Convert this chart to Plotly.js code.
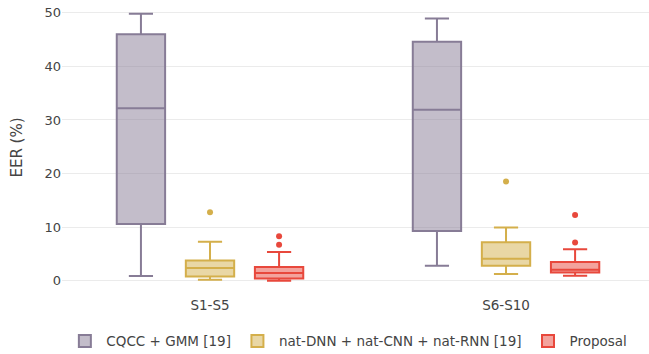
<!DOCTYPE html>
<html>
<head>
<meta charset="utf-8">
<script src="https://cdn.plot.ly/plotly-3.0.1.min.js"></script>
<style>html,body{margin:0;padding:0;background:#fff;}#chart{width:649px;height:354px;}</style>
</head>
<body>
<div id="chart"></div>
<script>
// Categories (x positions of each box group)
const categories = ["S1-S5", "S6-S10"];
const seriesNames = ["CQCC + GMM [19]", "nat-DNN + nat-CNN + nat-RNN [19]", "Proposal"];

// Sample EER values (%), per series and category
const cqccS1S5 = [0.9, 5.5, 10.6, 22.0, 32.2, 40.0, 46.0, 48.0, 49.8];
const cqccS6S10 = [2.8, 6.0, 9.3, 20.0, 31.9, 38.0, 44.6, 47.0, 48.9];
const natS1S5 = [0.2, 0.5, 0.8, 1.6, 2.4, 3.1, 3.8, 7.3, 12.8];
const natS6S10 = [1.25, 2.0, 2.8, 3.5, 4.1, 5.5, 7.2, 9.95, 18.5];
const propS1S5 = [0.0, 0.2, 0.3, 0.45, 0.8, 1.1, 1.45, 1.8, 2.2, 2.55, 5.35, 6.7, 8.3];
const propS6S10 = [0.93, 1.2, 1.4, 1.55, 1.7, 1.9, 2.05, 2.5, 3.0, 3.5, 5.9, 7.15, 12.25];

const yTicks = [0, 10, 20, 30, 40, 50];

const colors = ["#877c96", "#d4af4b", "#e8483c"];

function xsFor(arrA, arrB) {
  return arrA.map(() => categories[0]).concat(arrB.map(() => categories[1]));
}

const seriesData = [
  [cqccS1S5, cqccS6S10],
  [natS1S5, natS6S10],
  [propS1S5, propS6S10]
];

const traces = seriesData.map((pair, i) => ({
  type: "box",
  name: seriesNames[i],
  x: xsFor(pair[0], pair[1]),
  y: pair[0].concat(pair[1]),
  boxpoints: "outliers",
  quartilemethod: "inclusive",
  line: {color: colors[i], width: 2},
  marker: {color: colors[i], size: 6},
  whiskerwidth: 0.5
}));

const layout = {
  width: 649,
  height: 354,
  boxmode: "group",
  margin: {l: 62, r: 0, t: 0, b: 59},
  paper_bgcolor: "#ffffff",
  plot_bgcolor: "#ffffff",
  font: {family: "Verdana, 'DejaVu Sans', sans-serif", size: 13, color: "#444"},
  xaxis: {
    type: "category",
    range: [-0.5, 1.483],
    showgrid: false,
    zeroline: false,
    showline: false,
    tickfont: {size: 13.5, color: "#444"}
  },
  yaxis: {
    title: {text: "EER (%)", font: {size: 15, color: "#444"}},
    range: [-2.65, 52.37],
    tickvals: yTicks,
    ticktext: yTicks.map(String),
    gridcolor: "#ebebeb",
    gridwidth: 1,
    zeroline: false,
    showline: false,
    tickfont: {size: 13, color: "#444"}
  },
  legend: {
    orientation: "h",
    xref: "paper",
    x: 0.487,
    xanchor: "center",
    yref: "container",
    y: 0.036,
    yanchor: "middle",
    itemwidth: 33,
    font: {size: 13.5, color: "#444"}
  },
  showlegend: true
};

Plotly.newPlot("chart", traces, layout, {displayModeBar: false, staticPlot: true});
</script>
</body>
</html>
